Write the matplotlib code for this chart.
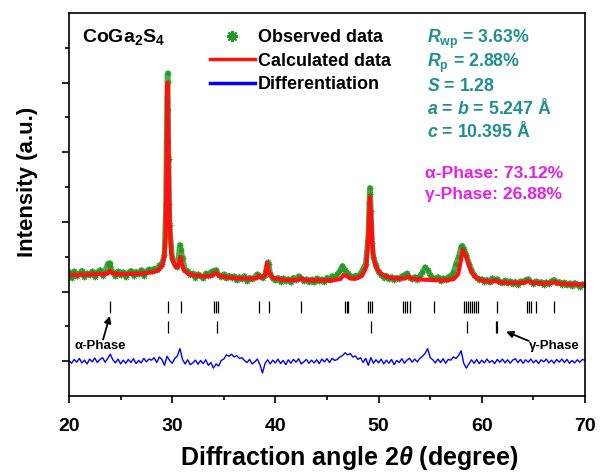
import numpy as np
import matplotlib
matplotlib.use('Agg')
import matplotlib.pyplot as plt
from matplotlib.lines import Line2D

plt.rcParams['font.family'] = ['Liberation Sans', 'DejaVu Sans']
plt.rcParams['font.weight'] = 'bold'
plt.rcParams['mathtext.fontset'] = 'custom'
plt.rcParams['mathtext.rm'] = 'Liberation Sans:bold'
plt.rcParams['mathtext.bf'] = 'Liberation Sans:bold'
plt.rcParams['mathtext.sf'] = 'Liberation Sans'
plt.rcParams['mathtext.it'] = 'Liberation Sans:bold:italic'
plt.rcParams['mathtext.bfit'] = 'Liberation Sans:bold:italic'

obs_x = np.linspace(20, 70, 201)
obs_y = [
    2.55, 2.40, 2.58, 2.44, 2.52, 2.60, 2.42, 2.53,
    2.47, 2.58, 2.43, 2.55, 2.62, 2.46, 2.57, 2.80,
    2.72, 2.55, 2.44, 2.58, 2.48, 2.56, 2.42, 2.54,
    2.60, 2.46, 2.57, 2.50, 2.62, 2.45, 2.58, 2.64,
    2.58, 2.66, 2.62, 2.75, 2.80, 3.05, 7.50, 3.90,
    2.95, 2.78, 2.70, 3.34, 2.95, 2.62, 2.58, 2.48,
    2.52, 2.40, 2.50, 2.44, 2.38, 2.52, 2.46, 2.56,
    2.60, 2.62, 2.48, 2.42, 2.50, 2.38, 2.46, 2.40,
    2.44, 2.32, 2.42, 2.36, 2.45, 2.30, 2.40, 2.35,
    2.42, 2.50, 2.44, 2.40, 2.48, 2.84, 2.50, 2.38,
    2.32, 2.40, 2.28, 2.38, 2.30, 2.36, 2.26, 2.40,
    2.34, 2.44, 2.38, 2.30, 2.36, 2.28, 2.35, 2.26,
    2.38, 2.30, 2.35, 2.28, 2.40, 2.32, 2.45, 2.38,
    2.50, 2.60, 2.74, 2.62, 2.52, 2.45, 2.40, 2.46,
    2.44, 2.52, 2.65, 2.80, 3.60, 4.30, 3.00, 2.75,
    2.55, 2.48, 2.40, 2.46, 2.36, 2.42, 2.34, 2.40,
    2.36, 2.44, 2.48, 2.52, 2.40, 2.36, 2.42, 2.34,
    2.45, 2.55, 2.70, 2.62, 2.48, 2.40, 2.35, 2.42,
    2.30, 2.38, 2.34, 2.42, 2.46, 2.55, 2.80, 3.00,
    3.28, 3.22, 3.05, 2.80, 2.62, 2.48, 2.40, 2.34,
    2.36, 2.28, 2.34, 2.26, 2.38, 2.32, 2.36, 2.28,
    2.25, 2.32, 2.24, 2.30, 2.22, 2.28, 2.20, 2.30,
    2.26, 2.34, 2.36, 2.28, 2.22, 2.30, 2.24, 2.28,
    2.20, 2.27, 2.22, 2.30, 2.34, 2.24, 2.28, 2.20,
    2.26, 2.18, 2.24, 2.16, 2.25, 2.20, 2.14, 2.22,
    2.18,
]
# extra observed points on the sharp peaks
obs_pk_x = [23.95, 29.4, 29.45, 29.55, 29.57, 29.6, 29.65, 29.7,
            30.85, 39.35, 49.1, 49.15, 49.2, 49.35, 58.1, 58.4]
obs_pk_y = [2.82, 4.5, 6.3, 8.27, 8.01, 7.2, 5.8, 4.5,
            3.20, 2.78, 4.55, 4.98, 4.80, 3.40, 3.32, 3.12]

# calculated profile
calc_x = [20.0, 21.0, 22.0, 23.0, 23.7, 23.95, 24.15, 24.6, 25.5, 26.5,
          27.5, 28.2, 28.7, 29.0, 29.2, 29.35, 29.45, 29.55, 29.65, 29.75,
          29.9, 30.1, 30.35, 30.55, 30.7, 30.8, 30.9, 31.1, 31.5, 32.0,
          33.0, 33.9, 34.2, 34.5, 35.0, 36.0, 37.0, 38.2, 38.4, 38.6,
          39.0, 39.2, 39.4, 39.7, 40.5, 41.5, 42.3, 42.5, 42.8, 44.0,
          45.5, 46.3, 46.6, 46.9, 47.2, 47.8, 48.4, 48.8, 49.0, 49.15,
          49.3, 49.45, 49.7, 50.2, 50.8, 51.5, 52.5, 52.9, 53.3, 54.5,
          55.4, 56.5, 57.3, 57.7, 57.95, 58.15, 58.35, 58.5, 58.7, 59.0,
          59.4, 60.0, 61.0, 61.3, 61.6, 62.5, 64.0, 64.5, 65.0, 66.0,
          66.9, 67.1, 67.4, 68.5, 70.0]
calc_y = [2.47, 2.48, 2.49, 2.50, 2.51, 2.60, 2.53, 2.50, 2.50, 2.51,
          2.53, 2.56, 2.62, 2.72, 2.92, 3.50, 5.60, 8.00, 6.00, 4.00,
          3.10, 2.85, 2.70, 2.72, 2.85, 3.00, 2.85, 2.62, 2.52, 2.47,
          2.44, 2.45, 2.55, 2.47, 2.42, 2.39, 2.37, 2.38, 2.45, 2.40,
          2.45, 2.82, 2.55, 2.40, 2.35, 2.33, 2.34, 2.38, 2.33, 2.32,
          2.32, 2.36, 2.47, 2.45, 2.38, 2.37, 2.45, 2.70, 3.50, 4.73,
          4.00, 3.10, 2.72, 2.52, 2.42, 2.38, 2.37, 2.43, 2.36, 2.34,
          2.33, 2.32, 2.36, 2.50, 2.85, 3.20, 3.05, 3.00, 2.80, 2.55,
          2.40, 2.32, 2.28, 2.32, 2.27, 2.25, 2.25, 2.30, 2.25, 2.23,
          2.25, 2.28, 2.23, 2.21, 2.20]

# difference curve, 0.25 degree grid
diff_x = np.linspace(20, 70, 201)
diff_y = [
    0.02, -0.06, 0.05, -0.03, 0.08, -0.05, 0.03, -0.08,
    0.06, -0.02, 0.09, -0.04, 0.05, 0.10, -0.03, 0.08,
    0.20, 0.04, -0.05, 0.06, -0.08, 0.03, -0.06, 0.05,
    -0.04, 0.07, -0.07, 0.02, -0.05, 0.08, -0.02, 0.06,
    0.03, 0.10, -0.04, 0.12, 0.05, -0.12, 0.14, 0.02,
    -0.06, 0.08, 0.15, 0.36, 0.05, -0.08, 0.04, -0.10,
    -0.05, 0.03, -0.09, 0.02, -0.07, 0.04, -0.12, -0.04,
    -0.20, -0.08, -0.14, 0.02, 0.06, 0.18, 0.14, 0.20,
    0.12, 0.16, 0.08, 0.10, 0.02, -0.04, 0.05, -0.08,
    -0.02, 0.06, -0.10, -0.34, -0.06, 0.04, -0.08, 0.03,
    -0.05, 0.06, -0.07, 0.02, -0.10, 0.04, -0.06, 0.05,
    -0.03, 0.07, -0.08, -0.02, 0.05, -0.06, 0.03, -0.05,
    0.04, -0.07, 0.06, -0.02, 0.07, -0.04, 0.08, 0.02,
    0.05, 0.12, 0.16, 0.24, 0.18, 0.22, 0.12, 0.15,
    0.05, 0.10, -0.04, 0.08, -0.12, 0.10, -0.06, 0.04,
    -0.05, 0.06, -0.08, 0.03, -0.06, 0.05, -0.10, 0.02,
    -0.04, 0.07, -0.06, 0.03, 0.08, -0.03, 0.06, -0.02,
    0.08, 0.14, 0.22, 0.36, 0.10, 0.04, -0.05, 0.06,
    -0.04, 0.07, -0.06, 0.05, 0.03, 0.12, 0.08, 0.16,
    0.30, -0.06, -0.20, -0.08, 0.04, -0.06, 0.05, -0.07,
    0.03, -0.05, 0.06, -0.04, 0.02, -0.07, 0.05, -0.03,
    0.06, -0.05, 0.04, -0.06, 0.03, 0.07, -0.04, 0.05,
    -0.06, 0.04, -0.03, 0.06, -0.05, 0.03, -0.07, 0.04,
    -0.02, 0.06, -0.05, 0.03, -0.06, 0.05, -0.03, 0.06,
    -0.04, 0.05, -0.06, 0.02, -0.05, 0.04, -0.03, 0.05,
    0.02,
]

# Bragg positions
alpha_pos = [23.97, 29.59, 30.89, 34.09, 34.26, 34.46, 38.37, 39.34, 42.44,
             46.72, 46.89, 47.05, 49.02, 49.19, 49.36, 52.36, 52.56, 52.80,
             53.03, 55.37, 58.31, 58.48, 58.68, 58.85, 59.05, 59.25, 59.45,
             59.61, 61.45, 64.39, 64.59, 64.79, 65.29, 66.99]
gamma_pos = [29.59, 34.33, 49.29, 58.58, 61.38, 61.52]

green = '#229922'
teal = '#1f9090'
magenta = '#e61ee6'
red = '#ff1010'

fig = plt.figure(figsize=(6, 4.74), dpi=100)
ax = fig.add_axes([0.115, 0.1646, 0.86, 0.808])

ox = np.concatenate([obs_x, obs_pk_x])
oy = np.concatenate([obs_y, obs_pk_y])
order = np.argsort(ox)
ox, oy = ox[order], oy[order]

ax.plot(ox, oy, color=green, lw=4, alpha=0.8, solid_joinstyle='round')
ax.plot(ox, oy, ls='none', marker=(8, 2, 0), ms=4, mew=0.6, color=green)
ax.plot(calc_x, calc_y, color=red, lw=3)
ax.plot(diff_x, diff_y, color='#0000ff', lw=1.0)

ax.vlines(alpha_pos, 1.38, 1.72, color='black', lw=0.9)
ax.vlines(gamma_pos, 0.81, 1.16, color='black', lw=0.9)

arrow = dict(arrowstyle='-|>', color='black', lw=1.3, mutation_scale=10,
             shrinkA=0, shrinkB=0)
ax.annotate('', xy=(23.95, 1.3), xytext=(23.3, 0.62), arrowprops=arrow)
ax.annotate('', xy=(62.35, 0.85), xytext=(64.55, 0.58), arrowprops=arrow)
ax.text(22.98, 0.43, 'α-Phase', ha='center', va='center', fontsize=9.5,
        fontweight='bold')
ax.text(67.07, 0.43, 'γ-Phase', ha='center', va='center', fontsize=9.5,
        fontweight='bold')

ax.set_xlim(20, 70)
ax.set_ylim(-1, 10)
ax.set_xticks([20, 30, 40, 50, 60, 70])
ax.set_xticks([25, 35, 45, 55, 65], minor=True)
ax.set_yticks([0, 2, 4, 6, 8])
ax.set_yticks([1, 3, 5, 7, 9], minor=True)
ax.set_yticklabels([])
ax.tick_params(which='both', direction='out', width=1.2, top=False, right=False)
ax.tick_params(which='major', length=5)
ax.tick_params(which='minor', length=3)
ax.tick_params(axis='x', labelsize=14, pad=11)
for s in ax.spines.values():
    s.set_linewidth(1.2)

ax.set_xlabel(r'Diffraction angle 2$\mathbfit{\theta}$ (degree)', fontsize=18, fontweight='bold')
ax.xaxis.set_label_coords(0.543, -0.125)
ax.set_ylabel('Intensity (a.u.)', fontsize=16, fontweight='bold')
ax.yaxis.set_label_coords(-0.06, 0.559)

ax.text(0.025, 0.937, r'CoGa$_{\mathbf{2}}$S$_{\mathbf{4}}$', transform=ax.transAxes,
        fontsize=14, fontweight='bold', va='center', ha='left')

handles = [
    Line2D([], [], ls='none', marker=(8, 2, 0), ms=8, mew=1.5, color=green),
    Line2D([], [], color=red, lw=2.5),
    Line2D([], [], color='#0000ff', lw=2.5),
]
ax.legend(handles, ['Observed data', 'Calculated data', 'Differentiation'],
          loc='upper left', bbox_to_anchor=(0.273, 0.958), frameon=False,
          borderaxespad=0, borderpad=0, handlelength=2.5, handletextpad=0.15,
          labelspacing=0.36, prop={'size': 13, 'weight': 'bold'})

info = [r'$\mathbfit{R}_{\mathsf{wp}}$ = 3.63%',
        r'$\mathbfit{R}_{\mathsf{p}}$ = 2.88%',
        r'$\mathbfit{S}$ = 1.28',
        r'$\mathbfit{a}$ = $\mathbfit{b}$ = 5.247 Å',
        r'$\mathbfit{c}$ = 10.395 Å']
info_y = [0.921, 0.859, 0.797, 0.735, 0.675]
for t, yy in zip(info, info_y):
    ax.text(0.694, yy, t, transform=ax.transAxes, color=teal, fontsize=12.8,
            fontweight='bold', va='baseline', ha='left')

phases = ['α-Phase: 73.12%', 'γ-Phase: 26.88%']
phase_y = [0.581, 0.526]
for t, yy in zip(phases, phase_y):
    ax.text(0.69, yy, t, transform=ax.transAxes, color=magenta, fontsize=12.6,
            fontweight='bold', va='center', ha='left')

fig.savefig('out.png', dpi=100)
